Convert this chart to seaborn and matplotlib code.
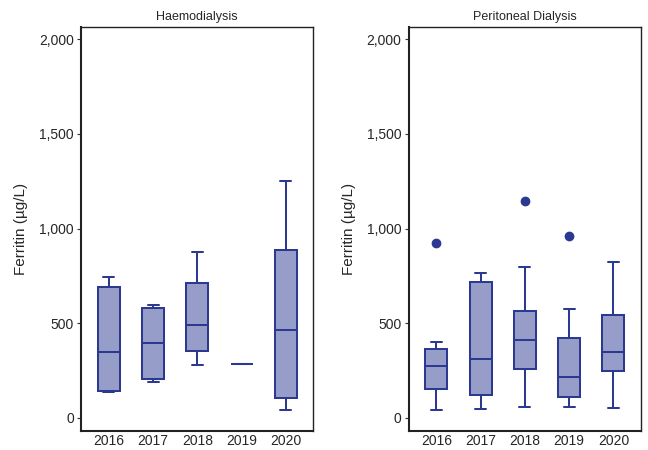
import numpy as np
import pandas as pd
import matplotlib
matplotlib.use("Agg")
import matplotlib.pyplot as plt
import seaborn as sns

years = ["2016", "2017", "2018", "2019", "2020"]
panels = ["Haemodialysis", "Peritoneal Dialysis"]

# box statistics (µg/L)
hd_low = [134, 188, 280, 287, 44]
hd_q1 = [143, 206, 354, 287, 107]
hd_med = [347, 394, 493, 287, 463]
hd_q3 = [692, 581, 711, 287, 885]
hd_high = [746, 597, 875, 287, 1251]
hd_out = [None, None, None, None, None]

pd_low = [39, 49, 58, 58, 51]
pd_q1 = [151, 120, 259, 109, 250]
pd_med = [273, 310, 413, 215, 347]
pd_q3 = [364, 716, 566, 422, 542]
pd_high = [403, 764, 797, 577, 825]
pd_out = [926, None, 1147, 961, None]


def build(panel, low, q1, med, q3, high, out):
    rows = []
    for i, y in enumerate(years):
        if out[i] is None:
            vals = [low[i], q1[i], q1[i], med[i], med[i], med[i], q3[i], q3[i], high[i]]
        else:
            vals = [low[i], q1[i], q1[i], med[i], med[i], q3[i], q3[i], high[i], out[i]]
        for v in vals:
            rows.append({"panel": panel, "year": y, "ferritin": v})
    return rows


df = pd.DataFrame(
    build(panels[0], hd_low, hd_q1, hd_med, hd_q3, hd_high, hd_out)
    + build(panels[1], pd_low, pd_q1, pd_med, pd_q3, pd_high, pd_out)
)

sns.set_style("white")
plt.rcParams["font.family"] = ["Liberation Sans", "DejaVu Sans"]

edge = "#2B3990"
fill = "#959DC8"
lw = 1.45

fig, axes = plt.subplots(1, 2, figsize=(6.48, 4.5), dpi=100)
fig.subplots_adjust(left=0.125, right=0.989, top=0.94, bottom=0.042, wspace=0.41)

for ax, panel in zip(axes, panels):
    sub = df[df["panel"] == panel]
    sns.boxplot(
        data=sub, x="year", y="ferritin", order=years, ax=ax,
        color=fill, width=0.5, linewidth=lw, linecolor=edge,
        flierprops=dict(marker="o", markerfacecolor=edge, markeredgecolor=edge,
                        markersize=6),
        medianprops=dict(color=edge, linewidth=lw),
        boxprops=dict(facecolor=fill, edgecolor=edge, linewidth=lw),
        whiskerprops=dict(color=edge, linewidth=lw),
        capprops=dict(color=edge, linewidth=lw),
    )
    ax.set_ylim(-70, 2065)
    ax.set_xlim(-0.63, 4.62)
    ax.set_yticks([0, 500, 1000, 1500, 2000])
    ax.set_yticklabels(["0", "500", "1,000", "1,500", "2,000"])
    ax.set_xlabel("")
    ax.set_ylabel("Ferritin (µg/L)", fontsize=11, labelpad=8)
    ax.set_title(panel, fontsize=9, pad=5)
    ax.tick_params(axis="y", which="major", left=True, length=3, width=0.8,
                   labelsize=10, pad=2, color="#333333")
    ax.tick_params(axis="x", bottom=False, length=0, labelsize=10, pad=2)
    for s in ax.spines.values():
        s.set_visible(True)
        s.set_color("#222222")
        s.set_linewidth(1.0)
    ax.spines["left"].set_linewidth(1.5)
    ax.spines["bottom"].set_linewidth(1.5)

fig.savefig("out.png", dpi=100)
